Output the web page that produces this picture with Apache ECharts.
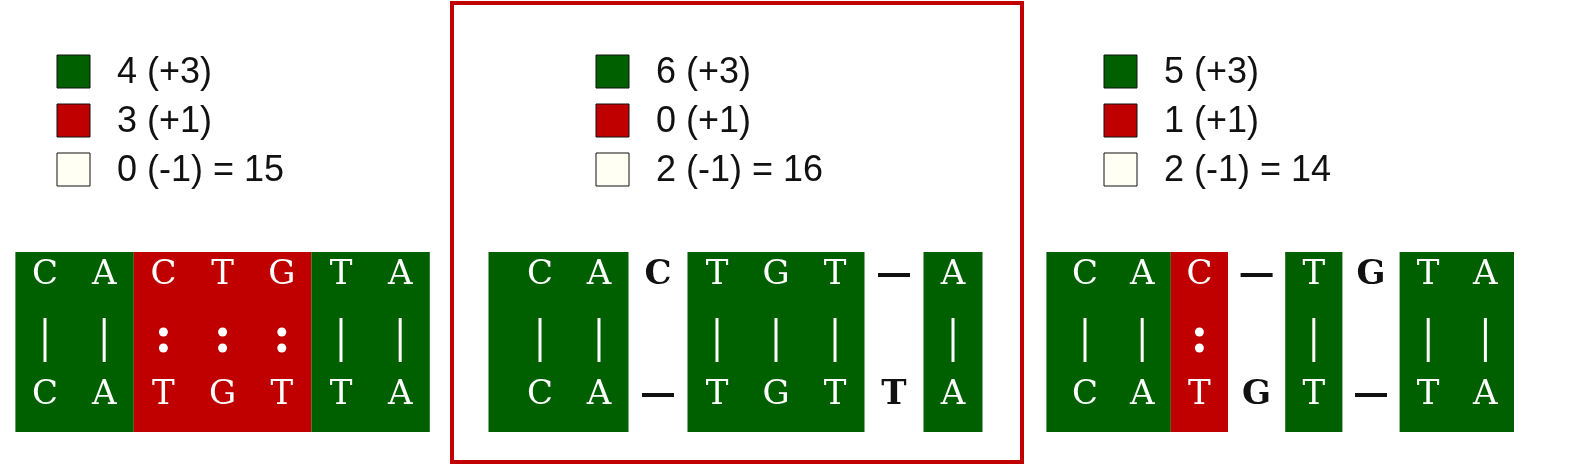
<!DOCTYPE html><html><head><meta charset="utf-8">
<script src="https://cdn.jsdelivr.net/npm/echarts@6/dist/echarts.min.js"></script>
<style>html,body{margin:0;background:#fff;overflow:hidden}#c{width:1583px;height:468px}</style></head><body><div id="c"></div>
<script>
// Panel data
const topSeq = [['C','A','C','T','G','T','A'], ['C','A','C','T','G','T','-','A'], ['C','A','C','-','T','G','T','A']];
const midSeq = [['|','|',':',':',':','|','|'], ['|','|','','|','|','|','','|'], ['|','|',':','','|','','|','|']];
const botSeq = [['C','A','T','G','T','T','A'], ['C','A','-','T','G','T','T','A'], ['C','A','T','G','T','-','T','A']];
// blocks: [startCol, endCol, type]
const blocks = [[[0,1,'g'],[2,4,'r'],[5,6,'g']], [[0,1,'g'],[3,5,'g'],[7,7,'g']], [[0,1,'g'],[2,2,'r'],[4,4,'g'],[6,7,'g']]];
const matchCount = [4,6,5], mismatchCount = [3,0,1], gapCount = [0,2,2], totals = [15,16,14];

const GREEN='#006000', RED='#c00000';
const gridsPx = [{c0:45,sp:59.2},{c0:540,sp:59},{c0:1085,sp:57.2}];
const grid=[], xAxis=[], yAxis=[], series=[];
gridsPx.forEach((g,i)=>{
  const n=topSeq[i].length;
  const leftPx=g.c0-g.sp/2;
  grid.push({left:leftPx,width:g.sp*n,top:252,height:180});
  xAxis.push({gridIndex:i,type:'value',min:-0.5,max:n-0.5,show:false});
  yAxis.push({gridIndex:i,type:'value',min:-0.5,max:2.5,inverse:true,show:false});
  const pad = i===0?0:(i===1?22:10);
  series.push({type:'custom',xAxisIndex:i,yAxisIndex:i,data:blocks[i].map(b=>[b[0],b[1],b[2]==='g'?0:1]),
    renderItem:(p,api)=>{
      const s=api.value(0),e=api.value(1);
      const a=api.coord([s-0.5,-0.5]),b=api.coord([e+0.5,2.5]);
      let x0=a[0],x1=b[0];
      if(s===0) x0-=pad;
      return {type:'rect',shape:{x:x0,y:a[1],width:x1-x0,height:b[1]-a[1]},style:{fill:api.value(2)?RED:GREEN}};
    }});
  const cells=[];
  const inBlock=c=>blocks[i].some(b=>c>=b[0]&&c<=b[1]);
  [topSeq[i],midSeq[i],botSeq[i]].forEach((row,r)=>row.forEach((ch,c)=>{if(ch)cells.push([c,r,ch,inBlock(c)?1:0]);}));
  series.push({type:'custom',xAxisIndex:i,yAxisIndex:i,data:cells,
    renderItem:(p,api)=>{
      const d=cells[p.dataIndex];
      const pt=api.coord([d[0],d[1]]);
      const col=d[3]?'#fff':'#111';
      const yy = d[1]===1?pt[1]-2:pt[1]-7;
      if(d[2]==='|') return {type:'rect',shape:{x:pt[0]-1.5,y:yy-22,width:3,height:44},style:{fill:col}};
      if(d[2]===':') return {type:'group',children:[
        {type:'circle',shape:{cx:pt[0],cy:yy-8,r:4.5},style:{fill:col}},
        {type:'circle',shape:{cx:pt[0],cy:yy+8,r:4.5},style:{fill:col}}]};
      if(d[2]==='-') return {type:'rect',shape:{x:pt[0]-16,y:yy-2,width:32,height:4},style:{fill:col}};
      return {type:'text',style:{text:d[2],x:pt[0],y:yy,align:'center',verticalAlign:'middle',
        font:(d[3]?'':'bold ')+'34px "DejaVu Serif", "Liberation Serif", serif',fill:col}};
    }});
});
const graphic=[{type:'rect',shape:{x:452,y:3,width:570,height:459},style:{fill:'none',stroke:RED,lineWidth:4}}];
const legX=[57,596,1104];
legX.forEach((x,i)=>{
  const items=[[GREEN,matchCount[i]+' (+3)'],[RED,mismatchCount[i]+' (+1)'],['#fffff4',gapCount[i]+' (-1) = '+totals[i]]];
  items.forEach((it,k)=>{
    const y=55+k*49;
    graphic.push({type:'rect',shape:{x:x,y:y,width:33,height:33},style:{fill:it[0],stroke:'#111',lineWidth:1}});
    graphic.push({type:'text',style:{text:it[1],x:x+60,y:y+18,verticalAlign:'middle',font:'36px "Liberation Sans", Arial, sans-serif',fill:'#111'}});
  });
});
const chart=echarts.init(document.getElementById('c'));
chart.setOption({animation:false,grid,xAxis,yAxis,series,graphic});
</script></body></html>
